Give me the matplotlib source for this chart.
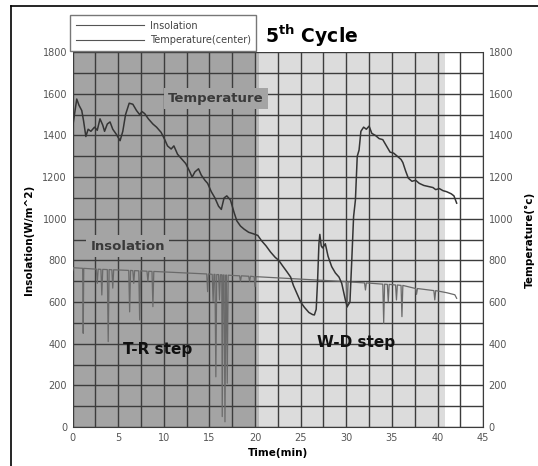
import matplotlib
matplotlib.use('Agg')
import matplotlib.pyplot as plt
from matplotlib.lines import Line2D
import numpy as np

# temperature (center) readings, minutes vs deg C
temp_t = [0.0, 0.2, 0.45, 0.7, 1.0, 1.2, 1.45, 1.7, 2.0, 2.4, 2.7, 3.0, 3.3, 3.5,
          3.8, 4.1, 4.4, 4.8, 5.2, 5.5, 5.8, 6.2, 6.6, 7.0, 7.35, 7.6, 7.9, 8.3,
          8.8, 9.2, 9.7, 10.1, 10.4, 10.8, 11.1, 11.5, 12.0, 12.4, 12.8, 13.1,
          13.4, 13.8, 14.1, 14.5, 14.8, 15.2, 15.6, 16.0, 16.3, 16.6, 16.9, 17.3,
          17.7, 18.0, 18.4, 18.8, 19.3, 19.8, 20.3, 20.7, 21.2, 21.7, 22.2, 22.6,
          23.0, 23.5, 23.9, 24.2, 24.5, 25.0, 25.4, 25.9, 26.3, 26.5, 26.7, 26.85,
          27.0, 27.1, 27.25, 27.4, 27.7, 28.0, 28.4, 28.8, 29.2, 29.5, 29.9, 30.1,
          30.4, 30.6, 30.8, 31.0, 31.2, 31.4, 31.6, 31.9, 32.2, 32.5, 32.8, 33.2,
          33.6, 34.0, 34.4, 34.8, 35.2, 35.6, 36.0, 36.2, 36.5, 36.8, 37.2, 37.6,
          38.0, 38.5, 39.0, 39.5, 39.8, 40.2, 40.6, 41.0, 41.5, 41.8, 42.1]
temp_v = [1440, 1500, 1575, 1545, 1520, 1470, 1395, 1430, 1420, 1440, 1425, 1480, 1450, 1420,
          1455, 1465, 1430, 1405, 1375, 1420, 1500, 1555, 1550, 1520, 1500, 1515, 1505, 1480,
          1455, 1440, 1415, 1380, 1350, 1335, 1350, 1310, 1285, 1265, 1230, 1200,
          1225, 1240, 1210, 1185, 1170, 1130, 1100, 1060, 1045, 1100, 1110, 1090,
          1030, 990, 965, 950, 935, 928, 920, 895, 870, 840, 815, 800,
          775, 745, 720, 680, 650, 600, 575, 550, 540, 538, 565, 700,
          880, 925, 870, 860, 880, 820, 770, 740, 720, 690, 610, 578,
          600, 800, 1010, 1090, 1300, 1330, 1420, 1440, 1430, 1445, 1410, 1400,
          1385, 1380, 1350, 1320, 1315, 1300, 1285, 1270, 1230, 1195, 1180, 1185,
          1170, 1160, 1155, 1150, 1140, 1145, 1135, 1130, 1120, 1110, 1075]

# insolation readings, minutes vs W/m^2 (dips are cloud passes)
ins_t = [0.0, 0.1, 1.1, 1.16, 1.22, 2.6, 2.7, 2.8, 3.1, 3.2, 3.3, 3.8, 3.9, 4.0,
         4.3, 4.4, 4.5, 6.15, 6.25, 6.35, 6.6, 6.7, 6.8, 7.25, 7.35, 7.45,
         8.15, 8.25, 8.35, 8.7, 8.8, 8.9, 14.7, 14.8, 14.9, 15.3, 15.4, 15.5,
         15.6, 15.7, 15.8, 16.0, 16.1, 16.2, 16.35, 16.4, 16.5, 16.6, 16.7, 16.8,
         16.85, 16.95, 17.05, 18.3, 18.4, 18.5, 19.3, 19.4, 19.5, 19.9, 20.0, 20.1,
         30.0, 30.1, 30.2, 32.0, 32.1, 32.2, 34.0, 34.1, 34.2, 34.5, 34.6, 34.7,
         35.4, 35.5, 35.6, 36.0, 36.1, 36.2, 37.6, 37.7, 37.8, 39.6, 39.7, 39.8,
         41.0, 41.9, 42.1]
ins_v = [750, 765, 762, 450, 762, 758, 690, 758, 757, 634, 757, 756, 410, 756,
         755, 667, 755, 752, 553, 752, 751, 690, 751, 750, 514, 750,
         748, 700, 748, 747, 578, 747, 735, 650, 735, 733, 602, 733,
         733, 241, 732, 732, 610, 731, 731, 50, 730, 730, 25, 730,
         730, 210, 729, 726, 700, 726, 724, 700, 724, 722, 674, 722,
         698, 575, 697, 692, 658, 692, 686, 498, 686, 685, 600, 685,
         682, 610, 682, 680, 530, 680, 665, 637, 665, 655, 610, 655,
         645, 635, 618]

y_ticks = list(range(0, 1801, 200))
x_ticks = list(range(0, 46, 5))

fig = plt.figure(figsize=(5.38, 4.66), dpi=100)
ax = fig.add_axes([0.135, 0.0837, 0.763, 0.8043])

# step shading
ax.axvspan(0, 20, color='#a4a4a4', lw=0, zorder=0)
ax.axvspan(20, 20.4, color='#b9b9b9', lw=0, zorder=0)
ax.axvspan(20.4, 40.8, color='#dcdcdc', lw=0, zorder=0)

for x in np.arange(0, 45.1, 2.5):
    ax.axvline(x, color='#3c3c3c', lw=1.0, zorder=1)
for y in range(0, 1801, 100):
    ax.axhline(y, color='#3c3c3c', lw=1.0, zorder=1)

l_ins, = ax.plot(ins_t, ins_v, color='#6a6a6a', lw=0.9, zorder=3)
l_tmp, = ax.plot(temp_t, temp_v, color='#353535', lw=1.1, zorder=4)

ax.set_xlim(0, 45)
ax.set_ylim(0, 1800)
ax.set_xticks(x_ticks)
ax.set_yticks(y_ticks)
ax.tick_params(length=0, labelsize=7, colors='#555555', pad=4)
for s in ['top', 'left']:
    ax.spines[s].set_visible(False)
for s in ['bottom', 'right']:
    ax.spines[s].set_color('#3c3c3c')

ax2 = ax.twinx()
ax2.set_ylim(0, 1800)
ax2.set_yticks(y_ticks)
ax2.tick_params(length=0, labelsize=7, colors='#555555', pad=4)
for s in ax2.spines.values():
    s.set_visible(False)

ax.set_xlabel('Time(min)', fontsize=7.5, fontweight='bold', labelpad=4)
ax.set_ylabel('Insolation(W/m^2)', fontsize=7.5, fontweight='bold', labelpad=6)
ax2.set_ylabel('Temperature(\u00b0c)', fontsize=7.5, fontweight='bold', labelpad=8)

box = dict(facecolor='#a4a4a4', edgecolor='none', pad=3)
ax.text(15.7, 1578, 'Temperature', fontsize=9.5, fontweight='bold', color='#3a3a3a',
        ha='center', va='center', bbox=box, zorder=5)
ax.text(6.05, 869, 'Insolation', fontsize=9.5, fontweight='bold', color='#3a3a3a',
        ha='center', va='center', bbox=box, zorder=5)
ax.text(9.35, 370, 'T-R step', fontsize=11, fontweight='bold', color='#111111',
        ha='center', va='center', zorder=5)
ax.text(31.1, 405, 'W-D step', fontsize=11, fontweight='bold', color='#111111',
        ha='center', va='center', zorder=5)

fig.text(0.493, 0.922, r'5$^{\mathbf{th}}$ Cycle', fontsize=13.5, fontweight='bold',
         ha='left', va='center')

handles = [Line2D([], [], color='#555555', lw=0.8), Line2D([], [], color='#555555', lw=0.8)]
fig.legend(handles, ['Insolation', 'Temperature(center)'], loc='upper left',
           bbox_to_anchor=(0.130, 0.968), fontsize=7, handlelength=7,
           frameon=True, fancybox=False, edgecolor='#777777', framealpha=1,
           borderpad=0.6, labelspacing=0.45, handletextpad=0.6, borderaxespad=0,
           labelcolor='#444444')

# page frame (left and top edges)
fig.add_artist(Line2D([0.021, 0.021], [0.0, 0.987], color='black', lw=1.2,
                      transform=fig.transFigure))
fig.add_artist(Line2D([0.021, 1.0], [0.987, 0.987], color='black', lw=1.2,
                      transform=fig.transFigure))

plt.savefig('out.png', dpi=100)
